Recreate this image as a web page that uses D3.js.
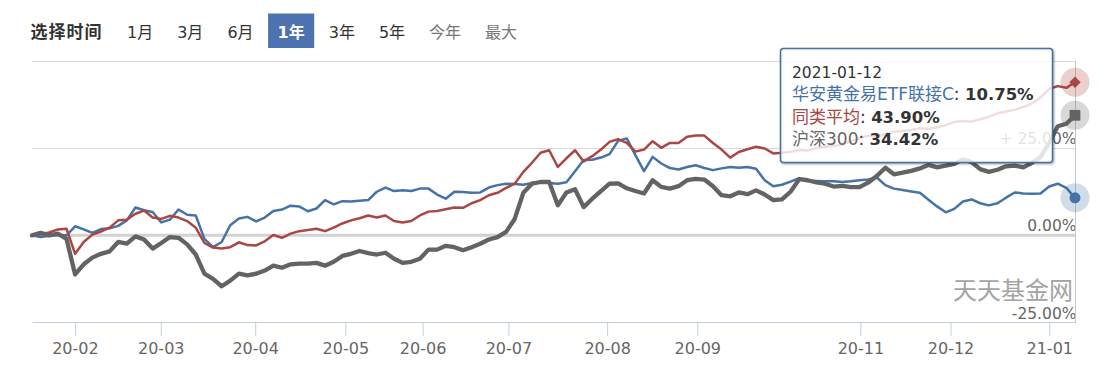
<!DOCTYPE html>
<html><head><meta charset="utf-8">
<script src="https://cdn.jsdelivr.net/npm/d3@7"></script>
<style>
body{margin:0;background:#fff;}
svg{display:block;}
</style></head><body>
<svg id="chart" width="1119" height="378"></svg>
<script>
// ---------------- data ----------------
const rangeButtons = ["1月","3月","6月","1年","3年","5年","今年","最大"];
const activeButton = "1年";
const mutedButtons = ["今年","最大"];
const seriesNames = ["华安黄金易ETF联接C","同类平均","沪深300"];
const tooltipDate = "2021-01-12";
const tickLabels = ["20-02","20-03","20-04","20-05","20-06","20-07","20-08","20-09","20-11","20-12","21-01"];
const tickDays = [10,30,52,73,91,111,134,155,193,214,237];
const totalDays = 243;
const yLabelValues = [-25, 0, 25];
const yGridValues = [25, 50];

const fundValues = [0,-0.5,-0.1,0,0,2.6,1.7,0.7,1.8,2.0,
2.7,4.3,8.0,7.2,6.7,3.7,4.5,7.4,5.9,5.7,
-1.0,-3.4,-1.9,2.9,4.8,5.3,4.0,5.1,7.0,7.4,
8.5,8.3,6.9,7.7,10.1,8.9,9.8,9.7,9.9,10.1,
12.5,13.7,12.7,12.9,12.7,13.4,13.4,11.7,10.5,12.5,
12.4,12.2,12.3,13.7,14.4,14.8,14.7,14.5,15.0,15.4,
15.0,14.8,15.2,18.4,21.6,21.7,22.3,23.3,27.1,27.8,
23.0,18.4,22.5,20.6,19.3,18.9,19.6,20.1,19.3,18.7,
19.2,19.6,19.4,19.6,19.1,15.8,14.1,14.5,15.4,16.4,
15.6,15.6,15.5,15.5,15.3,15.5,15.8,16.0,16.6,14.4,
13.4,13.0,12.6,12.2,10.2,8.3,6.6,7.6,9.7,10.3,
9.2,8.6,9.2,10.8,12.3,12.0,11.9,12.0,14.0,14.8,
13.6,10.75];

const avgValues = [0,0.3,0.8,1.7,1.9,-5.3,-1.9,0.2,1.1,2.2,
4.3,4.5,6.2,7.1,5.1,4.7,5.6,5.1,4.1,2.2,
-2.2,-3.5,-3.8,-3.4,-2.0,-2.8,-2.9,-1.7,0.1,-0.7,
0.5,1.2,1.5,1.9,1.2,2.2,3.4,4.3,4.9,5.7,
5.1,5.7,4.1,3.7,4.1,5.7,6.8,7.0,7.5,8.0,
7.9,9.2,10.1,11.5,12.2,13.6,14.8,18.2,20.8,23.7,
24.4,19.6,22.1,24.4,21.2,22.7,24.6,26.8,27.6,26.5,
24.0,24.6,27.0,25.1,26.5,26.5,28.3,28.6,28.6,26.5,
24.6,22.3,23.9,24.7,25.4,24.9,23.5,23.7,24.0,24.5,
24.3,25.0,25.4,25.6,26.0,27.0,27.8,28.6,28.2,29.0,
29.7,29.9,30.2,30.7,30.5,31.0,31.6,32.5,32.8,32.6,
33.3,34.0,35.0,35.5,36.0,36.8,37.8,39.5,42.0,42.8,
42.3,43.9];

const hs300Values = [0,0.7,0,0.5,-1.0,-11.2,-8.3,-6.4,-5.3,-4.6,
-1.9,-2.4,-0.3,-1.2,-3.8,-2.2,-0.5,-0.7,-2.6,-5.5,
-11.0,-12.5,-14.6,-13.0,-11.0,-11.5,-11.0,-10.1,-8.7,-9.3,
-8.3,-8.1,-8.1,-7.9,-8.7,-7.6,-5.9,-5.3,-4.5,-5.1,
-5.5,-5.0,-6.7,-7.9,-7.6,-6.7,-4.1,-4.1,-3.0,-3.4,
-4.3,-3.4,-2.4,-1.2,-0.5,1.0,4.7,12.2,14.8,15.3,
15.3,8.6,12.3,13.2,8.1,10.5,12.7,14.8,14.9,13.5,
12.7,12.0,15.8,13.9,13.4,14.1,15.8,16.2,16.0,14.1,
11.5,11.2,12.3,11.8,12.9,11.7,10.1,10.3,12.5,16.1,
15.8,15.2,14.8,14.0,14.2,13.8,13.8,15.1,17.0,19.4,
17.5,18.0,18.5,19.2,20.2,19.5,20.0,20.5,21.8,21.0,
19.0,18.2,18.8,19.8,20.0,19.5,20.8,22.4,26.5,31.3,
32.0,34.42];

const seriesColors = ["#4572A7","#AA4643","#636363"];
const seriesWidths = [2.5,2.5,4.3];
const markerShapes = ["circle","diamond","square"];

// ---------------- layout ----------------
const svg = d3.select("#chart");
const latin = "'DejaVu Sans','Noto Sans CJK SC',sans-serif";
const plotL = 32, plotR = 1075, plotT = 61, plotB = 322.5;

const xDay = d3.scaleLinear().domain([0, totalDays]).range([plotL, plotR]);
const y = d3.scaleLinear().domain([-25, 50]).range([plotB, plotT]);
const allSeries = [fundValues, avgValues, hs300Values];
const xSample = (i, n) => xDay(i * totalDays / (n - 1));

// range selector
svg.append("text").attr("x", 30.5).attr("y", 37.5)
  .attr("font-family", "'Noto Sans CJK SC',sans-serif").attr("font-weight", "bold")
  .attr("font-size", 17).attr("letter-spacing", 1).attr("fill", "#333").text("选择时间");
let bx = 117.5;
rangeButtons.forEach(lbl => {
  const g = svg.append("g");
  const active = lbl === activeButton;
  const rect = g.append("rect").attr("y", 13.5).attr("height", 34.5)
    .attr("fill", active ? "#4D72B0" : "none");
  const t = g.append("text").attr("x", bx + 9.5).attr("y", 37.5)
    .attr("font-family", latin).attr("font-size", 16)
    .attr("font-weight", active ? "bold" : "normal")
    .attr("fill", active ? "#fff" : (mutedButtons.includes(lbl) ? "#777" : "#333"))
    .text(lbl);
  const w = t.node().getComputedTextLength();
  rect.attr("x", bx).attr("width", w + 19);
  bx += w + 19 + 5;
});

// gridlines
svg.append("g").selectAll("line").data(yGridValues).join("line")
  .attr("x1", plotL).attr("x2", plotR)
  .attr("y1", d => Math.round(y(d)) + 0.5).attr("y2", d => Math.round(y(d)) + 0.5)
  .attr("stroke", "#d8d8d8").attr("stroke-width", 1);
svg.append("line").attr("x1", plotL).attr("x2", plotR)
  .attr("y1", y(0)).attr("y2", y(0)).attr("stroke", "#d2d2d2").attr("stroke-width", 3);

// x axis
const xAxis = d3.axisBottom(xDay).tickValues(tickDays)
  .tickFormat((d, i) => tickLabels[i]).tickSize(14).tickSizeOuter(0).tickPadding(7);
const gx = svg.append("g").attr("transform", `translate(0,${Math.floor(plotB)})`).call(xAxis);
gx.select(".domain").attr("stroke", "#C0D0E0");
gx.selectAll(".tick line").attr("stroke", "#C0D0E0");
gx.selectAll(".tick text").attr("fill", "#666").attr("font-size", 16).attr("font-family", latin);

// y labels
const fmtY = v => v > 0 ? "+ " + v.toFixed(2) + "%" : v.toFixed(2) + "%";
svg.append("g").selectAll("text").data(yLabelValues).join("text")
  .attr("x", 1076.5).attr("y", d => y(d) - 4)
  .attr("text-anchor", "end").attr("font-family", latin).attr("font-size", 15.5)
  .attr("fill", "#666").text(fmtY);

// crosshair
svg.append("line").attr("x1", plotR + 0.5).attr("x2", plotR + 0.5)
  .attr("y1", plotT).attr("y2", Math.floor(plotB) + 1).attr("stroke", "#c8c8c8").attr("stroke-width", 1);

// watermark
svg.append("text").attr("x", 1073).attr("y", 298.5).attr("text-anchor", "end")
  .attr("font-family", "'Noto Sans CJK SC',sans-serif").attr("font-size", 24)
  .attr("fill", "#a3a3a3").text("天天基金网");

// lines
allSeries.forEach((vals, s) => {
  const line = d3.line().x((d, i) => xSample(i, vals.length)).y(d => y(d));
  svg.append("path").datum(vals).attr("d", line).attr("fill", "none")
    .attr("stroke", seriesColors[s]).attr("stroke-width", seriesWidths[s])
    .attr("stroke-linejoin", "round").attr("stroke-linecap", "round");
});

// end markers with halo
allSeries.forEach((vals, s) => {
  const n = vals.length;
  const cx = xSample(n - 1, n), cy = y(vals[n - 1]);
  svg.append("circle").attr("cx", cx).attr("cy", cy).attr("r", 14.5)
    .attr("fill", seriesColors[s]).attr("fill-opacity", 0.25);
  const shape = markerShapes[s];
  const sym = shape === "circle" ? d3.symbolCircle : d3.symbolSquare;
  const size = shape === "circle" ? 95 : shape === "diamond" ? 64 : 115;
  svg.append("path").attr("d", d3.symbol(sym, size)())
    .attr("transform", `translate(${cx},${cy})` + (shape === "diamond" ? " rotate(45)" : ""))
    .attr("fill", seriesColors[s]);
});

// tooltip
const tip = svg.append("g");
const tx = 780.5, ty = 48.5, tw = 272, th = 114;
[[5, 0.05], [3, 0.1], [1, 0.15]].forEach(([sw, op]) => {
  tip.append("rect").attr("x", tx + 1).attr("y", ty + 1).attr("width", tw).attr("height", th)
    .attr("rx", 3).attr("fill", "none").attr("stroke", "#000").attr("stroke-opacity", op).attr("stroke-width", sw);
});
tip.append("rect").attr("x", tx).attr("y", ty).attr("width", tw).attr("height", th).attr("rx", 3)
  .attr("fill", "rgba(255,255,255,0.82)").attr("stroke", seriesColors[0]).attr("stroke-width", 1.5);
tip.append("text").attr("x", 792).attr("y", 78).attr("font-family", latin).attr("font-size", 15.5)
  .attr("fill", "#333").text(tooltipDate);
const textColors = ["#4572A7", "#AA4643", "#666"];
const baselines = [100, 123, 145];
allSeries.forEach((vals, s) => {
  const t = tip.append("text").attr("x", 792).attr("y", baselines[s]).attr("font-family", latin);
  t.append("tspan").attr("fill", textColors[s]).attr("font-size", 17).text(seriesNames[s]);
  t.append("tspan").attr("fill", "#333").attr("font-size", 17).text(": ");
  t.append("tspan").attr("fill", "#333").attr("font-weight", "bold").attr("font-size", 16.5)
    .text(vals[vals.length - 1].toFixed(2) + "%");
});
</script>
</body></html>
